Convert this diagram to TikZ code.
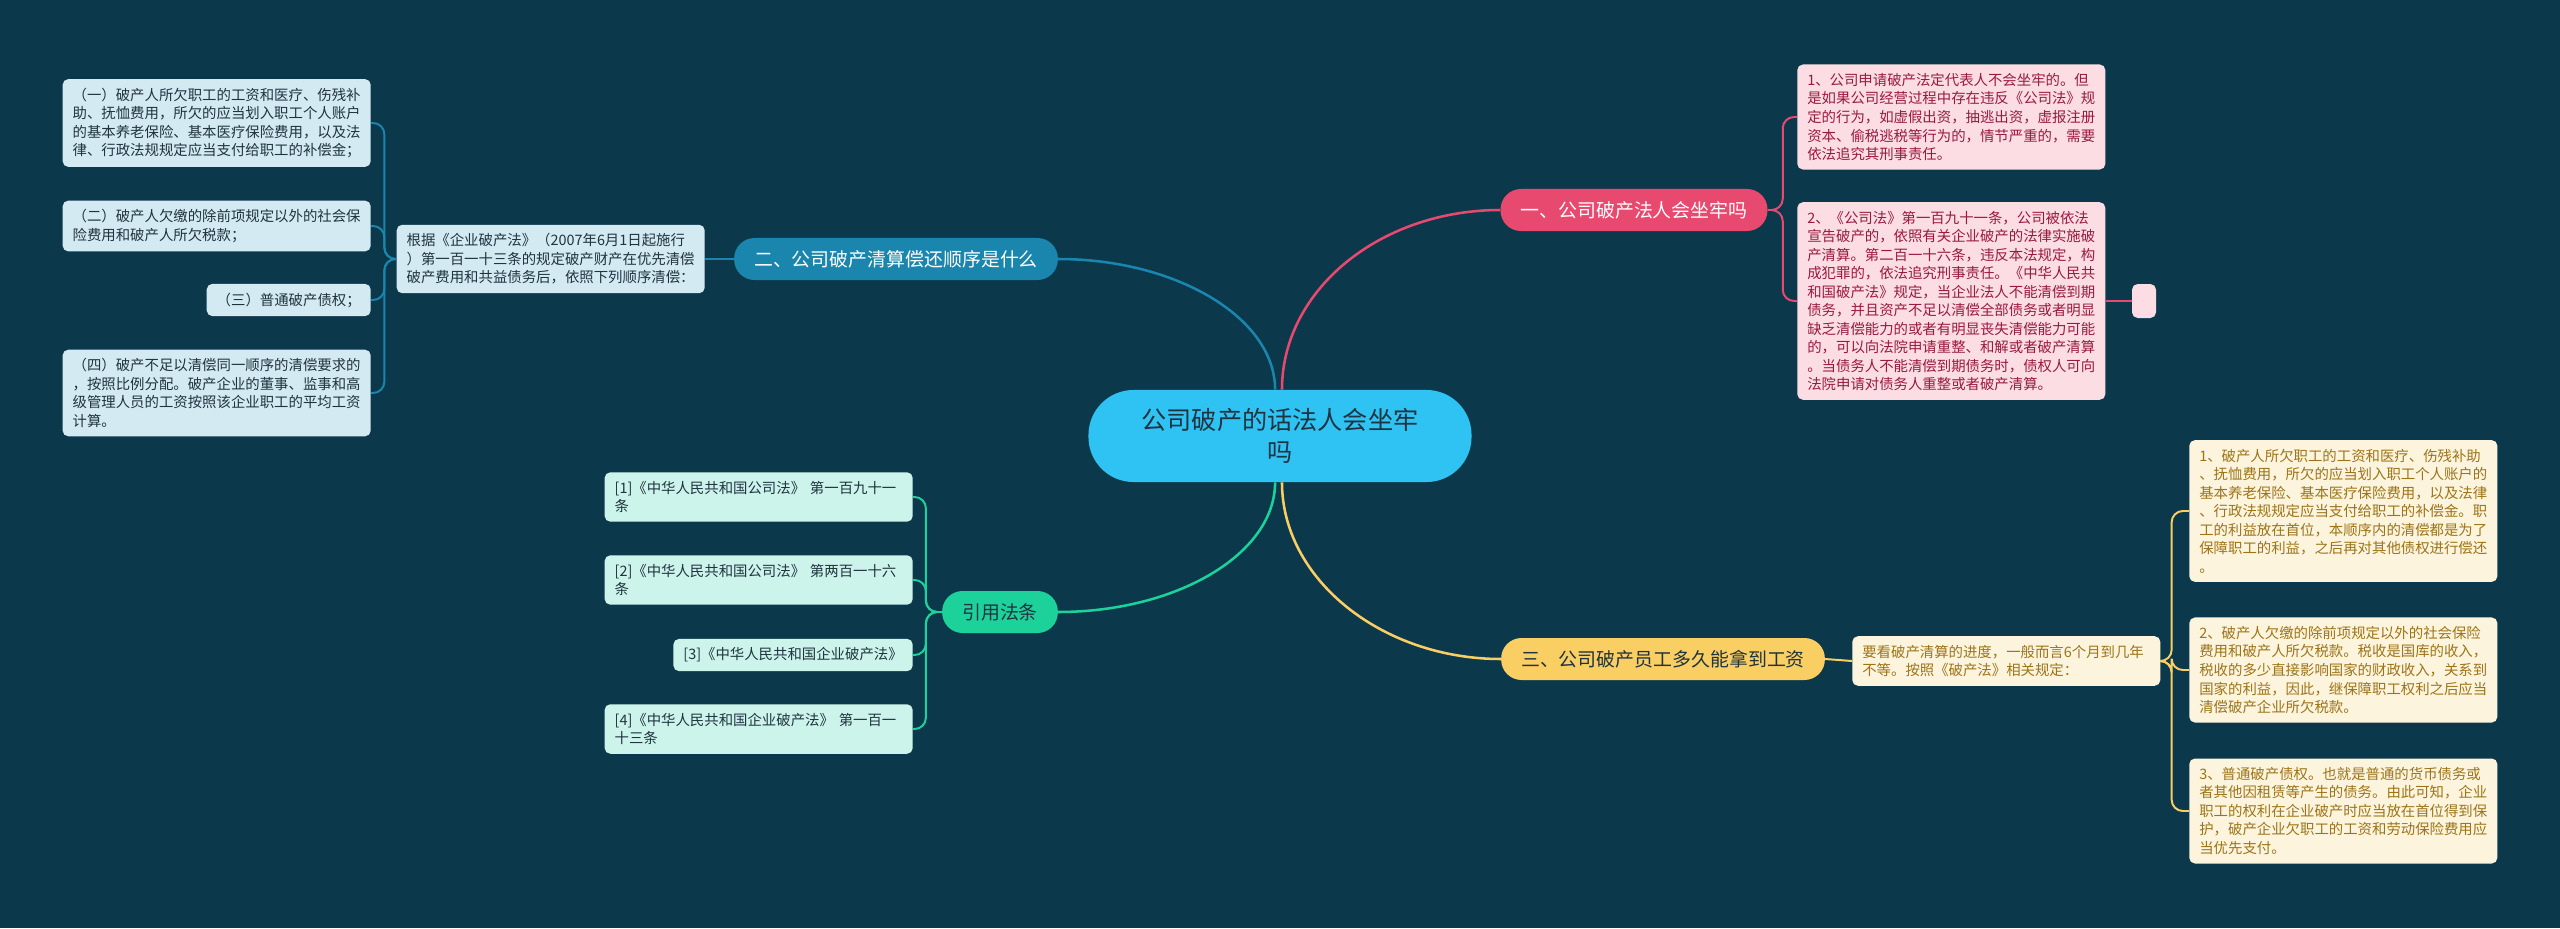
\documentclass[tikz,border=0pt]{standalone}
\usepackage{fontspec}
\newfontfamily\cjk{Noto Sans CJK SC}
\usetikzlibrary{positioning}
\definecolor{cbg}{HTML}{0C384C}
\definecolor{croot}{HTML}{2FC3F3}
\definecolor{cdark}{HTML}{1F3340}
\definecolor{cpink}{HTML}{E8496F}
\definecolor{cpinkleaf}{HTML}{FBDDE3}
\definecolor{cpinktext}{HTML}{9A1A3E}
\definecolor{cblue}{HTML}{1A86AD}
\definecolor{cblueleaf}{HTML}{D4EAF2}
\definecolor{cyellow}{HTML}{F9CE63}
\definecolor{cyellowleaf}{HTML}{FDF4DD}
\definecolor{cyellowtext}{HTML}{9C7418}
\definecolor{cgreen}{HTML}{1DD29A}
\definecolor{cgreenleaf}{HTML}{CDF4EA}
\tikzset{
  every picture/.style={font=\cjk},
  root/.style={fill=croot, text=cdark, rounded corners=32pt, minimum width=9.575cm, minimum height=2.3cm, align=center, font=\cjk\fontsize{17.9}{22.5}\selectfont},
  branch/.style={fill=#1, rounded corners=14.5pt, minimum height=1.05cm, inner xsep=0.5cm, inner ysep=0pt, font=\cjk\fontsize{13.45}{16}\selectfont},
  leaf/.style 2 args={fill=#1, text=#2, rounded corners=4pt, align=left, inner xsep=0.25cm, inner ysep=0.22cm, font=\cjk\fontsize{10.24}{13.16}\selectfont},
  wide/.style={text width=7.2cm},
  link/.style={draw=#1, line width=1.4pt, rounded corners=8pt},
  trunk/.style={draw=#1, line width=1.8pt},
}

\begin{document}
\begin{tikzpicture}[x=0.025cm, y=-0.025cm]
  \fill[cbg] (0,0) rectangle (2560,928);
  \node[root] (root) at (1280,436) {公司破产的话法人会坐牢\\吗};
  \node[branch=cpink, text=white] (b1) at (1634,210) {一、公司破产法人会坐牢吗};
  \node[branch=cblue, text=white] (b2) at (896,259) {二、公司破产清算偿还顺序是什么};
  \node[branch=cyellow, text=cdark] (b3) at (1663,659) {三、公司破产员工多久能拿到工资};
  \node[branch=cgreen, text=cdark] (b4) at (1000,612) {引用法条};

  \draw[trunk=cpink] ([xshift=1.4pt]root.north) .. controls +(0,-100) and +(-120,0) .. (b1.west);
  \draw[trunk=cblue] ([xshift=-3.5pt]root.north) .. controls +(0,-72) and +(118,0) .. (b2.east);
  \draw[trunk=cyellow] ([xshift=1.4pt]root.south) .. controls +(0,97) and +(-119,0) .. (b3.west);
  \draw[trunk=cgreen] ([xshift=-3.5pt]root.south) .. controls +(0,72) and +(118,0) .. (b4.east);

  \node[leaf={cpinkleaf}{cpinktext}, wide, anchor=west] (p1) at (1797,117) {1、公司申请破产法定代表人不会坐牢的。但\\是如果公司经营过程中存在违反《公司法》规\\定的行为，如虚假出资，抽逃出资，虚报注册\\资本、偷税逃税等行为的，情节严重的，需要\\依法追究其刑事责任。};
  \node[leaf={cpinkleaf}{cpinktext}, wide, anchor=west] (p2) at (1797,301) {2、《公司法》第一百九十一条，公司被依法\\宣告破产的，依照有关企业破产的法律实施破\\产清算。第二百一十六条，违反本法规定，构\\成犯罪的，依法追究刑事责任。《中华人民共\\和国破产法》规定，当企业法人不能清偿到期\\债务，并且资产不足以清偿全部债务或者明显\\缺乏清偿能力的或者有明显丧失清偿能力可能\\的，可以向法院申请重整、和解或者破产清算\\。当债务人不能清偿到期债务时，债权人可向\\法院申请对债务人重整或者破产清算。};
  \node[leaf={cpinkleaf}{cpinktext}, minimum width=0.6cm, minimum height=0.85cm, inner sep=0pt] (pe) at (2144,301) {};
  \draw[link=cpink] (b1.east) -- ++(15,0) |- (p1.west);
  \draw[link=cpink] (b1.east) -- ++(15,0) |- (p2.west);
  \draw[link=cpink] (p2.east) -- (pe.west);

  \node[leaf={cblueleaf}{cdark}, wide, anchor=east] (bm) at (705,259) {根据《企业破产法》（2007年6月1日起施行\\）第一百一十三条的规定破产财产在优先清偿\\破产费用和共益债务后，依照下列顺序清偿：};
  \node[leaf={cblueleaf}{cdark}, wide, anchor=east] (ba) at (371,123) {（一）破产人所欠职工的工资和医疗、伤残补\\助、抚恤费用，所欠的应当划入职工个人账户\\的基本养老保险、基本医疗保险费用，以及法\\律、行政法规规定应当支付给职工的补偿金；};
  \node[leaf={cblueleaf}{cdark}, wide, anchor=east] (bb) at (371,226) {（二）破产人欠缴的除前项规定以外的社会保\\险费用和破产人所欠税款；};
  \node[leaf={cblueleaf}{cdark}, anchor=east] (bc) at (371,300) {（三）普通破产债权；};
  \node[leaf={cblueleaf}{cdark}, wide, anchor=east] (bd) at (371,393) {（四）破产不足以清偿同一顺序的清偿要求的\\，按照比例分配。破产企业的董事、监事和高\\级管理人员的工资按照该企业职工的平均工资\\计算。};
  \draw[link=cblue] (b2.west) -- (bm.east);
  \foreach \n in {ba,bb,bc,bd}
    \draw[link=cblue] (bm.west) -- ++(-12,0) |- (\n.east);

  \node[leaf={cyellowleaf}{cyellowtext}, wide, anchor=west] (ym) at (1852,661) {要看破产清算的进度，一般而言6个月到几年\\不等。按照《破产法》相关规定：};
  \node[leaf={cyellowleaf}{cyellowtext}, wide, anchor=west] (y1) at (2189,511) {1、破产人所欠职工的工资和医疗、伤残补助\\、抚恤费用，所欠的应当划入职工个人账户的\\基本养老保险、基本医疗保险费用，以及法律\\、行政法规规定应当支付给职工的补偿金。职\\工的利益放在首位，本顺序内的清偿都是为了\\保障职工的利益，之后再对其他债权进行偿还\\。};
  \node[leaf={cyellowleaf}{cyellowtext}, wide, anchor=west] (y2) at (2189,670) {2、破产人欠缴的除前项规定以外的社会保险\\费用和破产人所欠税款。税收是国库的收入，\\税收的多少直接影响国家的财政收入，关系到\\国家的利益，因此，继保障职工权利之后应当\\清偿破产企业所欠税款。};
  \node[leaf={cyellowleaf}{cyellowtext}, wide, anchor=west] (y3) at (2189,811) {3、普通破产债权。也就是普通的货币债务或\\者其他因租赁等产生的债务。由此可知，企业\\职工的权利在企业破产时应当放在首位得到保\\护，破产企业欠职工的工资和劳动保险费用应\\当优先支付。};
  \draw[link=cyellow] (b3.east) -- (ym.west);
  \foreach \n in {y1,y2,y3}
    \draw[link=cyellow] (ym.east) -- ++(11,0) |- (\n.west);

  \node[leaf={cgreenleaf}{cdark}, wide, anchor=east] (g1) at (913,497) {[1]《中华人民共和国公司法》 第一百九十一\\条};
  \node[leaf={cgreenleaf}{cdark}, wide, anchor=east] (g2) at (913,580) {[2]《中华人民共和国公司法》 第两百一十六\\条};
  \node[leaf={cgreenleaf}{cdark}, anchor=east] (g3) at (913,655) {[3]《中华人民共和国企业破产法》};
  \node[leaf={cgreenleaf}{cdark}, wide, anchor=east] (g4) at (913,729) {[4]《中华人民共和国企业破产法》 第一百一\\十三条};
  \foreach \n in {g1,g2,g3,g4}
    \draw[link=cgreen] (b4.west) -- ++(-16,0) |- (\n.east);
\end{tikzpicture}
\end{document}
